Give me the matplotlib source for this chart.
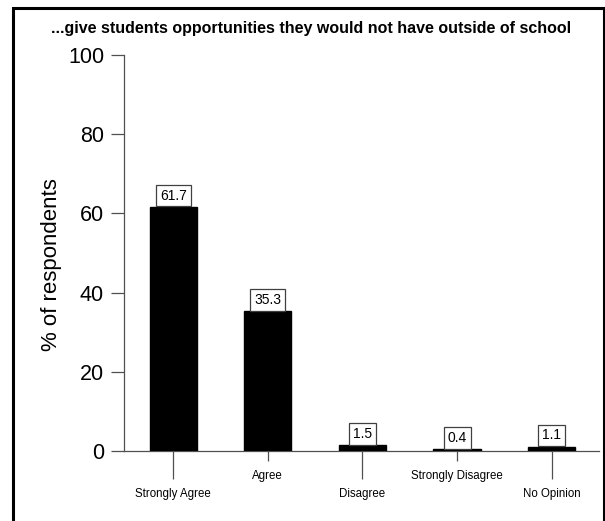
import matplotlib
matplotlib.use("Agg")
import matplotlib.pyplot as plt
from matplotlib.patches import Rectangle
from matplotlib.ticker import FixedLocator

categories = ["Strongly Agree", "Agree", "Disagree", "Strongly Disagree", "No Opinion"]
values = [61.7, 35.3, 1.5, 0.4, 1.1]
value_labels = ["61.7", "35.3", "1.5", "0.4", "1.1"]
yticks = [0, 20, 40, 60, 80, 100]
title = "...give students opportunities they would not have outside of school"

plt.rcParams['font.family'] = ['Liberation Sans', 'DejaVu Sans']

W, H = 605, 521
fig = plt.figure(figsize=(W / 100, H / 100), dpi=100)

# figure border (cut off at the bottom)
fig.patches.append(Rectangle((12.5 / W, -0.05), (604 - 12.5) / W, 1.05 - 7.5 / H,
                             transform=fig.transFigure, fill=False,
                             edgecolor='black', linewidth=2.2))

ax = fig.add_axes([124 / W, 70 / H, (599 - 124) / W, (451 - 55) / H])
axis_col = '#505050'
x = list(range(len(categories)))
ax.bar(x, values, width=0.5, color='black', edgecolor='black', linewidth=1, zorder=3)

for xi, v, lab in zip(x, values, value_labels):
    ax.annotate(lab, xy=(xi, v), xytext=(0, 3.0), textcoords='offset points',
                ha='center', va='bottom', fontsize=10, zorder=4,
                bbox=dict(boxstyle='square,pad=0.28', fc='white', ec='#404040', lw=0.9))

ax.set_xlim(-0.52, 4.5)
ax.set_ylim(0, 100)
ax.set_yticks(yticks)
ax.set_yticklabels([str(t) for t in yticks], fontsize=15.5)
ax.tick_params(axis='y', direction='out', length=9.4, width=0.9, color=axis_col, pad=5)

# staggered x labels: long ticks for even positions, short for odd
major_pos = [i for i in x if i % 2 == 0]
minor_pos = [i for i in x if i % 2 == 1]
ax.xaxis.set_major_locator(FixedLocator(major_pos))
ax.xaxis.set_minor_locator(FixedLocator(minor_pos))
ax.set_xticklabels([categories[i] for i in major_pos], fontsize=8.3)
ax.set_xticklabels([categories[i] for i in minor_pos], fontsize=8.3, minor=True)
ax.tick_params(axis='x', which='major', direction='out', length=20, width=0.9,
               color=axis_col, pad=7)
ax.tick_params(axis='x', which='minor', direction='out', length=7, width=0.9,
               color=axis_col, pad=6.5)

for s in ['top', 'right']:
    ax.spines[s].set_visible(False)
for s in ['left', 'bottom']:
    ax.spines[s].set_color(axis_col)
    ax.spines[s].set_linewidth(0.9)

ax.set_ylabel("% of respondents", fontsize=16)
ax.yaxis.set_label_coords(-0.13, 0.472)
fig.text(311 / W, 1 - 28 / H, title, ha='center', va='center', fontsize=11.5, fontweight='bold')

fig.savefig("out.png", dpi=100)
